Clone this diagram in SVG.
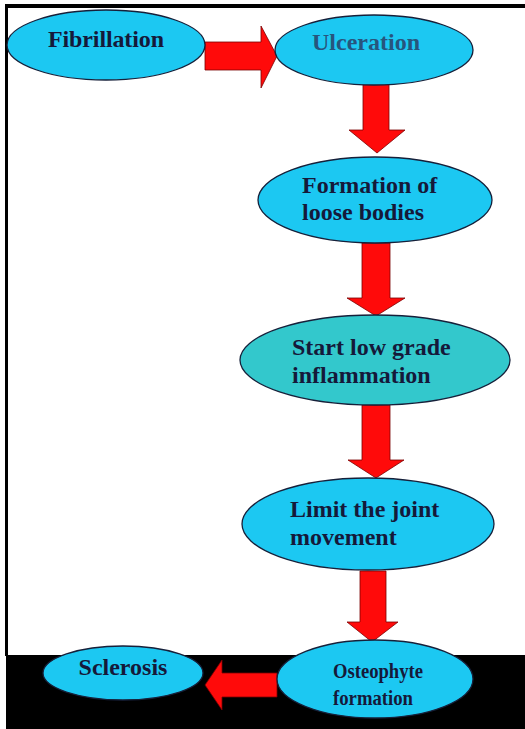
<svg xmlns="http://www.w3.org/2000/svg" width="525" height="729" viewBox="0 0 525 729">
  <style>
    .node { fill: #1cc8f2; stroke: #16203a; stroke-width: 1.3; }
    .node.teal { fill: #33c8cc; }
    .lbl { font-family: "Liberation Serif", "Times New Roman", serif; font-weight: bold; font-size: 24px; fill: #15193a; }
    .small { font-size: 22px; }
    .arrow { fill: #ff0a0a; stroke: #7a0000; stroke-width: 0.8; }
  </style>

  <!-- page frame -->
  <rect x="0" y="0" width="525" height="729" fill="#ffffff"/>
  <rect x="6" y="4" width="519" height="4" fill="#000000"/>
  <rect x="5" y="4" width="3" height="652" fill="#000000"/>
  <rect x="6" y="655" width="519" height="74" fill="#000000"/>

  <!-- connectors -->
  <g id="connectors">
    <polygon class="arrow" points="205,42 261,42 261,26 277,56 261,88 261,70 205,70"/>
    <polygon class="arrow" points="363,84 389,84 389,130 405,130 377,153 349,130 363,130"/>
    <polygon class="arrow" points="362,243 390,243 390,298 405,298 376,316 347,298 362,298"/>
    <polygon class="arrow" points="362,405 390,405 390,460 404,460 376,478 348,460 362,460"/>
    <polygon class="arrow" points="360,571 386,571 386,622 398,622 372,642 347,622 360,622"/>
    <polygon class="arrow" points="277,673 222,673 222,660 205,685 222,710 222,697 277,697"/>
  </g>

  <!-- nodes -->
  <g id="fibrillation">
    <ellipse class="node" cx="106" cy="45" rx="99" ry="35"/>
    <text class="lbl" x="106" y="47" text-anchor="middle" textLength="116">Fibrillation</text>
  </g>
  <g id="ulceration">
    <ellipse class="node" cx="374" cy="50" rx="99" ry="35"/>
    <text class="lbl" x="366" y="50" text-anchor="middle" style="fill:#27557d">Ulceration</text>
  </g>
  <g id="loose-bodies">
    <ellipse class="node" cx="375" cy="200" rx="117" ry="43"/>
    <text class="lbl" x="302" y="193">Formation of</text>
    <text class="lbl" x="302" y="220">loose bodies</text>
  </g>
  <g id="inflammation">
    <ellipse class="node teal" cx="375" cy="360" rx="135" ry="45"/>
    <text class="lbl" x="292" y="355">Start low grade</text>
    <text class="lbl" x="292" y="383">inflammation</text>
  </g>
  <g id="joint-movement">
    <ellipse class="node" cx="368" cy="524" rx="126" ry="46"/>
    <text class="lbl" x="290" y="517">Limit the joint</text>
    <text class="lbl" x="290" y="545">movement</text>
  </g>
  <g id="osteophyte">
    <ellipse class="node" cx="375" cy="679" rx="98" ry="39"/>
    <text class="lbl small" x="333" y="678" textLength="90" lengthAdjust="spacingAndGlyphs">Osteophyte</text>
    <text class="lbl small" x="333" y="705" textLength="80" lengthAdjust="spacingAndGlyphs">formation</text>
  </g>
  <g id="sclerosis">
    <ellipse class="node" cx="123" cy="673" rx="80" ry="27"/>
    <text class="lbl" x="123" y="675" text-anchor="middle">Sclerosis</text>
  </g>
</svg>
